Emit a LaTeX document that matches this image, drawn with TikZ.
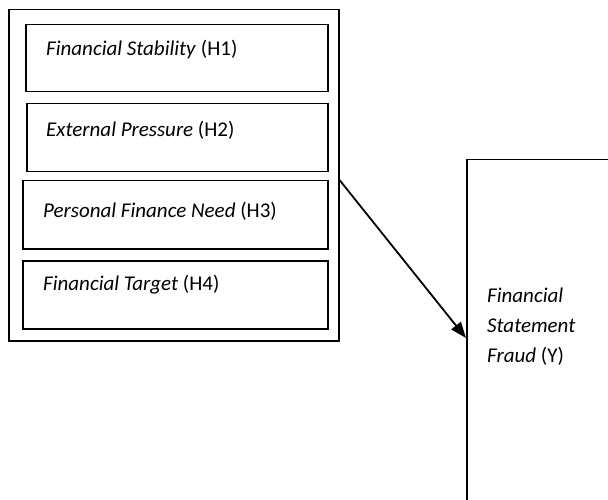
\documentclass[tikz,border=0pt]{standalone}
\usepackage{fontspec}
\setmainfont{Carlito}
\usetikzlibrary{arrows.meta}

\begin{document}
\begin{tikzpicture}[x=1pt, y=-1pt,
	box/.style = {draw, line width=1.5pt, anchor=north west, inner sep=0pt},
	lbl/.style = {anchor=west, inner sep=0pt, font=\fontsize{21}{30}\selectfont}]
	\useasboundingbox (0,0) rectangle (608,500);
	\clip (0,0) rectangle (608,500);

	%Pressure
	\node[box, minimum width=330pt, minimum height=331pt] (pressure) at (8,9) {};
	\node[box, minimum width=302pt, minimum height=67pt] (s1) at (25,24) {};
	\node[box, minimum width=301pt, minimum height=68pt] (s2) at (26,103) {};
	\node[box, minimum width=305pt, minimum height=68pt] (s3) at (22,180) {};
	\node[box, minimum width=305pt, minimum height=68pt] (s4) at (22,260) {};
	\node[lbl] (t1) at ([xshift=21pt, yshift=-26pt]s1.north west) {\textit{Financial Stability} (H1)};
	\node[lbl] (t2) at ([xshift=20pt, yshift=-27pt]s2.north west) {\textit{External Pressure} (H2)};
	\node[lbl] (t3) at ([xshift=21pt, yshift=-31pt]s3.north west) {\textit{Personal Finance Need} (H3)};
	\node[lbl] (t4) at ([xshift=21pt, yshift=-25pt]s4.north west) {\textit{Financial Target} (H4)};

	%Fraud
	\node[box, minimum width=170pt, minimum height=370pt] (fraud) at (466,159) {};
	\node[lbl, align=left] (ft) at ([xshift=21pt, yshift=-168pt]fraud.north west) {\textit{Financial}\\\textit{Statement}\\\textit{Fraud} (Y)};

	%Pfeil
	\draw[line width=1.8pt, -{Triangle[length=16pt, width=12pt]}] ([yshift=-171pt]pressure.north east) -- ([yshift=-179pt]fraud.north west);
\end{tikzpicture}
\end{document}
